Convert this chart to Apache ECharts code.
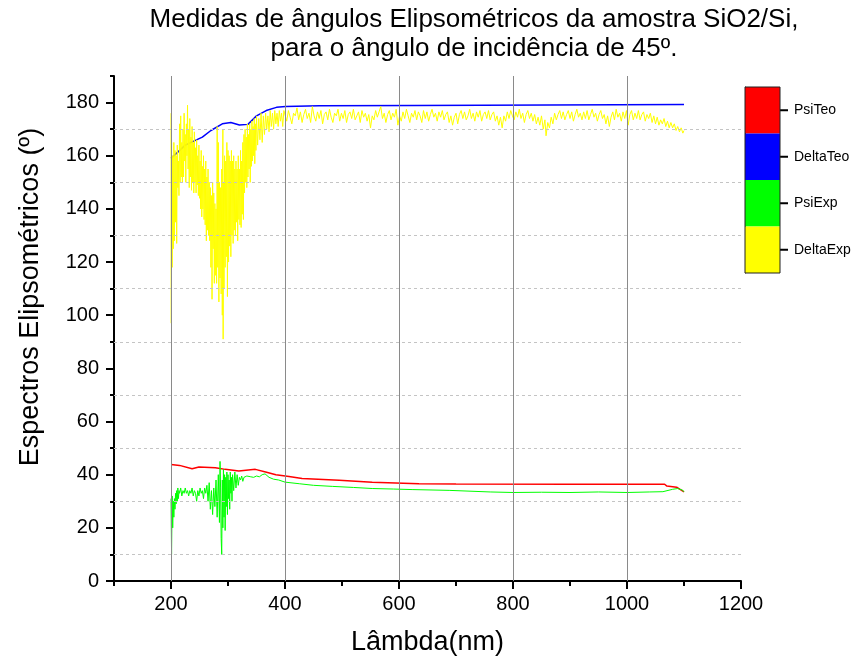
<!DOCTYPE html>
<html>
<head>
<meta charset="utf-8">
<script src="https://cdn.jsdelivr.net/npm/echarts@6/dist/echarts.min.js"></script>
<style>
html,body{margin:0;padding:0;background:#fff}
#chart{width:855px;height:663px}
</style>
</head>
<body>
<div id="chart"></div>
<script>
/*标题与坐标轴文字*/
var titleLines = ['Medidas de ângulos Elipsométricos da amostra SiO2/Si,', 'para o ângulo de incidência de 45º.'];
var xName = 'Lâmbda(nm)';
var yName = 'Espectros Elipsométricos (º)';
var legendNames = ['PsiTeo', 'DeltaTeo', 'PsiExp', 'DeltaExp'];

/*刻度*/
var xTicks = [200, 400, 600, 800, 1000, 1200];
var xMinorTicks = [100, 300, 500, 700, 900, 1100];
var yTicks = [0, 20, 40, 60, 80, 100, 120, 140, 160, 180];
var yMinorTicks = [10, 30, 50, 70, 90, 110, 130, 150, 170, 190];
var xGridLines = [200, 400, 600, 800, 1000];
var yGridLines = [10, 30, 50, 70, 90, 110, 130, 150, 170];

/*数据 [lambda, angle]*/
var psiTeo = [[200,43.8],[215,43.5],[237,42.2],[249,42.9],[278,42.6],[295,42],[319,41.4],[348,42],[366,41],[384,40],
    [407,39.3],[430,38.6],[495,37.9],[553,37.2],[635,36.6],[700,36.5],[900,36.4],[1066,36.4],[1070,35.7],[1087,35.3],[1100,33.5]];

var deltaTeo = [[200,159],[210,161],[225,164],[240,165.5],[255,167],[270,169.5],[290,172],[305,172.5],[320,171.6],[335,171.8],
    [350,175],[367,177],[385,178.2],[401,178.5],[460,178.8],[627,178.9],[628,179.3],[1100,179.3]];

var psiExp = [[200,31],[201,10],[202,32],[203,20],[204,30],[205,24],[206,31],[207,27],[208,33],[209,29],[210,34],[211,30],
    [212,35],[213,31],[214,34],[215,33],[217,35],[219,32],[221,34],[223,33],[225,35],[227,33],[229,34],[231,32],[233,34],
    [235,33],[237,35],[239,32],[241,34],[243,33],[245,30],[247,34],[249,32],[251,35],[253,33],[255,34],[257,31],[259,35],
    [261,33],[263,36],[265,30],[267,37],[269,27],[271,34],[273,25],[275,35],[277,28],[279,38],[281,24],[283,40],[285,22],
    [286,45],[287,35],[288,16],[289,10],[290,38],[291,20],[292,42],[293,24],[294,40],[295,19],[296,39],[297,28],[298,41],
    [299,25],[300,40],[301,31],[302,38],[303,27],[304,41],[305,33],[306,39],[307,30],[308,40],[310,34],[312,41],[314,35],
    [316,40],[318,36],[320,39],[322,38],[324,39.5],[326,37.5],[328,39],[330,38.5],[333,39.5],[336,38.8],[340,39.2],[345,39],
    [350,39.5],[355,39.2],[360,40],[365,40.3],[368,39.8],[372,39],[380,38.3],[389,38],[400,37.2],[425,36.6],[450,36],
    [483,35.6],[520,35.2],[553,34.8],[590,34.6],[623,34.4],[688,34.1],[760,33.5],[800,33.3],[850,33.4],[900,33.3],
    [950,33.5],[1000,33.3],[1040,33.5],[1063,33.6],[1066,34.1],[1080,34.5],[1089,34.8],[1098,34.1],[1100,33.5]];

var deltaExp = [[200,176],[200.5,97],[201,165],[202,118],[203,160],[204,125],[205,165],[206,128],[207,162],[208,135],
    [209,160],[210,127],[211,164],[212,148],[213,158],[214,145],[215,172],[216,150],[217,175],[218,152],[219,165],[220,150],
    [221,170],[222,152],[223,176],[224,158],[225,168],[226,150],[227,172],[228,160],[229,179],[230,155],[231,170],[232,148],
    [233,174],[234,152],[235,167],[236,147],[237,171],[238,150],[239,165],[240,146],[241,169],[242,150],[243,163],[244,146],
    [245,166],[246,149],[247,160],[248,145],[249,164],[250,144],[251,158],[252,140],[253,162],[254,137],[255,156],[256,140],
    [257,160],[258,136],[259,155],[260,134],[261,158],[262,128],[263,152],[264,132],[265,155],[266,130],[267,150],[268,128],
    [269,148],[270,118],[271,145],[272,106],[273,150],[274,125],[275,146],[276,112],[277,142],[278,115],[279,140],[280,112],
    [281,171],[282,118],[283,165],[284,105],[285,150],[286,114],[287,148],[288,108],[289,155],[290,100],[291,170],[291.5,91],
    [292,150],[293,110],[294,160],[295,118],[296,158],[297,122],[298,165],[299,107],[300,162],[301,120],[302,160],[303,126],
    [304,158],[305,122],[306,162],[307,130],[308,158],[309,127],[310,160],[311,132],[312,155],[313,130],[314,158],[315,135],
    [316,155],[317,128],[318,160],[319,136],[320,155],[321,134],[322,162],[323,133],[324,158],[325,138],[326,165],[327,136],
    [328,168],[329,146],[330,170],[331,150],[332,167],[333,148],[334,172],[335,152],[336,168],[337,155],[338,172],[339,150],
    [340,170],[341,156],[342,173],[343,158],[344,171],[345,160],[346,174],[347,157],[348,172],[349,162],[350,175],[352,164],
    [354,174],[356,166],[358,176],[360,165],[362,175],[364,168],[366,176],[368,170],[370,175],[372,169],[374,177],[376,171],
    [378,176],[380,170],[382,177],[384,172],[386,176],[388,171],[390,177],[392,173],[394,176],[396,171],[398,177],
    [400,176.5],[403,173],[406,177],[409,174.5],[412,172],[415,176],[418,175],[421,178],[424,173.5],[427,176.5],[430,172.5],
    [433,175.5],[436,177.5],[439,174],[442,176],[445,172.5],[448,178.5],[451,175],[454,173],[457,176.5],[460,174],[463,177],
    [466,172],[469,175.5],[472,176.5],[475,173.5],[478,177.5],[481,174.5],[484,172.5],[487,176],[490,175],[493,177.5],
    [496,173],[499,176],[502,174],[505,177],[508,172.5],[511,175.5],[514,176.5],[517,174],[520,177.5],[523,173.5],[526,175],
    [529,176.5],[532,172.5],[535,177],[538,174.5],[541,176],[544,173],[547,175.5],[550,170.5],[553,175],[556,173.5],[559,177],
    [562,174.5],[565,176.5],[568,178.5],[571,174],[574,176],[577,172.5],[580,175.5],[583,177],[586,173.5],[589,176],
    [592,174.5],[595,177.5],[598,171.5],[601,175],[604,173],[607,176.5],[610,174],[613,177.5],[616,175],[619,172.5],[622,176],
    [625,174.5],[628,177],[631,173.5],[634,176.5],[637,175],[640,172.5],[643,177],[646,174],[649,176.5],[652,173],[655,175.5],
    [658,177.5],[661,174.5],[664,176],[667,173],[670,176.5],[673,174.5],[676,177],[679,173.5],[682,175.5],[685,176.5],
    [688,172.5],[691,175],[694,171.5],[697,174.5],[700,176],[703,172],[706,175.5],[709,177],[712,174],[715,176.5],[718,173.5],
    [721,175],[724,177.5],[727,174],[730,176],[733,173],[736,176.5],[739,174.5],[742,177],[745,173],[748,175.5],[751,176.5],
    [754,174],[757,177],[760,173.5],[763,175.5],[766,176.5],[769,173],[772,175],[775,171.5],[778,174.5],[781,170.5],[784,175],
    [787,173],[790,176.5],[793,174],[796,177],[799,175],[802,173.5],[805,176.5],[808,174.5],[811,177.5],[814,174],[817,176],
    [820,172.5],[823,175.5],[826,177],[829,174],[832,176],[835,173],[838,175.5],[841,172],[844,174.5],[847,171.5],[850,175],
    [853,170],[856,173.5],[858,167.5],[861,172.5],[864,170.5],[867,174.5],[870,172],[873,176],[876,173.5],[879,175.5],
    [882,177],[885,174],[888,176.5],[891,173.5],[894,175.5],[897,177],[900,174],[903,176.5],[906,173],[909,175.5],[912,177.5],
    [915,174.5],[918,176],[921,173.5],[924,176.5],[927,174],[930,177],[933,173.5],[936,175.5],[939,177.5],[942,174.5],
    [945,176],[948,173],[951,175.5],[954,177],[957,174],[960,175.5],[963,172],[966,175],[969,171],[972,174.5],[975,176.5],
    [978,173.5],[981,177.5],[984,174.5],[987,176],[990,173],[993,176.5],[996,174],[999,177],[1002,171.5],[1005,175.5],
    [1008,177],[1011,173.5],[1014,176],[1017,174],[1020,177],[1023,173.5],[1026,175.5],[1029,176.5],[1032,173],[1035,175.5],
    [1038,174],[1041,176],[1044,172.5],[1047,175],[1050,172],[1053,174.5],[1056,171.5],[1059,173.5],[1062,172],[1065,174],
    [1068,171],[1071,173],[1074,170.5],[1077,172.5],[1080,170.5],[1083,172],[1086,169.5],[1089,171],[1092,169],[1095,170.5],
    [1098,168.5],[1100,169.5]];

var colors = ['#ff0000', '#0000ff', '#00ff00', '#ffff00'];
var font = "'Liberation Sans', Arial, sans-serif";

var chart = echarts.init(document.getElementById('chart'));

var lineSeries = function (name, data, color, width) {
    return {
        name: name,
        type: 'line',
        xAxisIndex: 0,
        yAxisIndex: 0,
        data: data,
        symbol: 'none',
        silent: true,
        animation: false,
        lineStyle: {color: color, width: width}
    };
};

var series = [
    lineSeries(legendNames[0], psiTeo, colors[0], 1.5),
    lineSeries(legendNames[1], deltaTeo, colors[1], 1.5),
    lineSeries(legendNames[2], psiExp, colors[2], 1),
    lineSeries(legendNames[3], deltaExp, colors[3], 1)
];
/*网格线挂在第一条曲线上*/
series[0].markLine = {
    silent: true,
    symbol: 'none',
    animation: false,
    label: {show: false},
    data: xGridLines.map(function (v) {
        return {xAxis: v, lineStyle: {color: '#8a8a8a', width: 1, type: 'solid'}};
    }).concat(yGridLines.map(function (v) {
        return {yAxis: v, lineStyle: {color: '#c4c4c4', width: 1, type: [3, 3]}};
    }))
};
/*图例色条*/
series.push({
    type: 'bar',
    xAxisIndex: 2,
    yAxisIndex: 2,
    silent: true,
    animation: false,
    barWidth: '100%',
    data: legendNames.map(function (n, i) {
        return {value: 1, itemStyle: {color: colors[i]}};
    })
});

var option = {
    backgroundColor: '#fff',
    animation: false,
    title: {
        text: titleLines.join('\n'),
        left: 469,
        top: 0,
        textAlign: 'center',
        textStyle: {fontFamily: font, fontSize: 26, fontWeight: 'normal', color: '#000', lineHeight: 29}
    },
    graphic: [{
        type: 'text',
        x: 31,
        y: 297,
        rotation: Math.PI / 2,
        silent: true,
        style: {text: yName, fontFamily: font, fontSize: 27, fill: '#000', align: 'center', verticalAlign: 'middle'}
    }],
    grid: [
        {left: 114, right: 114, top: 76, bottom: 82},
        {left: 745, top: 87, width: 35, height: 186, show: true, borderColor: '#222', borderWidth: 1, backgroundColor: 'transparent', z: 3}
    ],
    xAxis: [
        {
            type: 'value', gridIndex: 0, min: 100, max: 1200,
            name: xName, nameLocation: 'middle', nameGap: 48,
            nameTextStyle: {fontFamily: font, fontSize: 27, color: '#000'},
            axisLine: {lineStyle: {color: '#000', width: 2}},
            axisTick: {customValues: xTicks, length: 8, lineStyle: {color: '#000', width: 2}},
            axisLabel: {customValues: xTicks, fontFamily: font, fontSize: 20, color: '#000', margin: 13,
                formatter: function (v) { return String(v); }},
            splitLine: {show: false}
        },
        {
            type: 'value', gridIndex: 0, min: 100, max: 1200, position: 'bottom',
            axisLine: {show: false},
            axisTick: {customValues: xMinorTicks, length: 5, lineStyle: {color: '#000', width: 2}},
            axisLabel: {show: false},
            splitLine: {show: false}
        },
        {
            type: 'value', gridIndex: 1, min: 0, max: 1, show: false
        }
    ],
    yAxis: [
        {
            type: 'value', gridIndex: 0, min: 0, max: 190,
            axisLine: {lineStyle: {color: '#000', width: 2}},
            axisTick: {customValues: yTicks, length: 8, lineStyle: {color: '#000', width: 2}},
            axisLabel: {customValues: yTicks, fontFamily: font, fontSize: 20, color: '#000', margin: 15,
                formatter: function (v) { return String(v); }},
            splitLine: {show: false}
        },
        {
            type: 'value', gridIndex: 0, min: 0, max: 190, position: 'left',
            axisLine: {show: false},
            axisTick: {customValues: yMinorTicks, length: 4, lineStyle: {color: '#000', width: 2}},
            axisLabel: {show: false},
            splitLine: {show: false}
        },
        {
            type: 'category', gridIndex: 1, data: legendNames, inverse: true, position: 'right',
            axisLine: {show: true, lineStyle: {color: '#222', width: 1}},
            axisTick: {show: false},
            axisLabel: {
                fontFamily: font, fontSize: 14, color: '#000', margin: 0,
                formatter: function (v) { return '{tk|}{sp|}' + v; },
                rich: {
                    tk: {width: 8, height: 2, backgroundColor: '#000', verticalAlign: 'middle'},
                    sp: {width: 6}
                }
            },
            splitLine: {show: false}
        }
    ],
    series: series
};
chart.setOption(option);
</script>
</body>
</html>
